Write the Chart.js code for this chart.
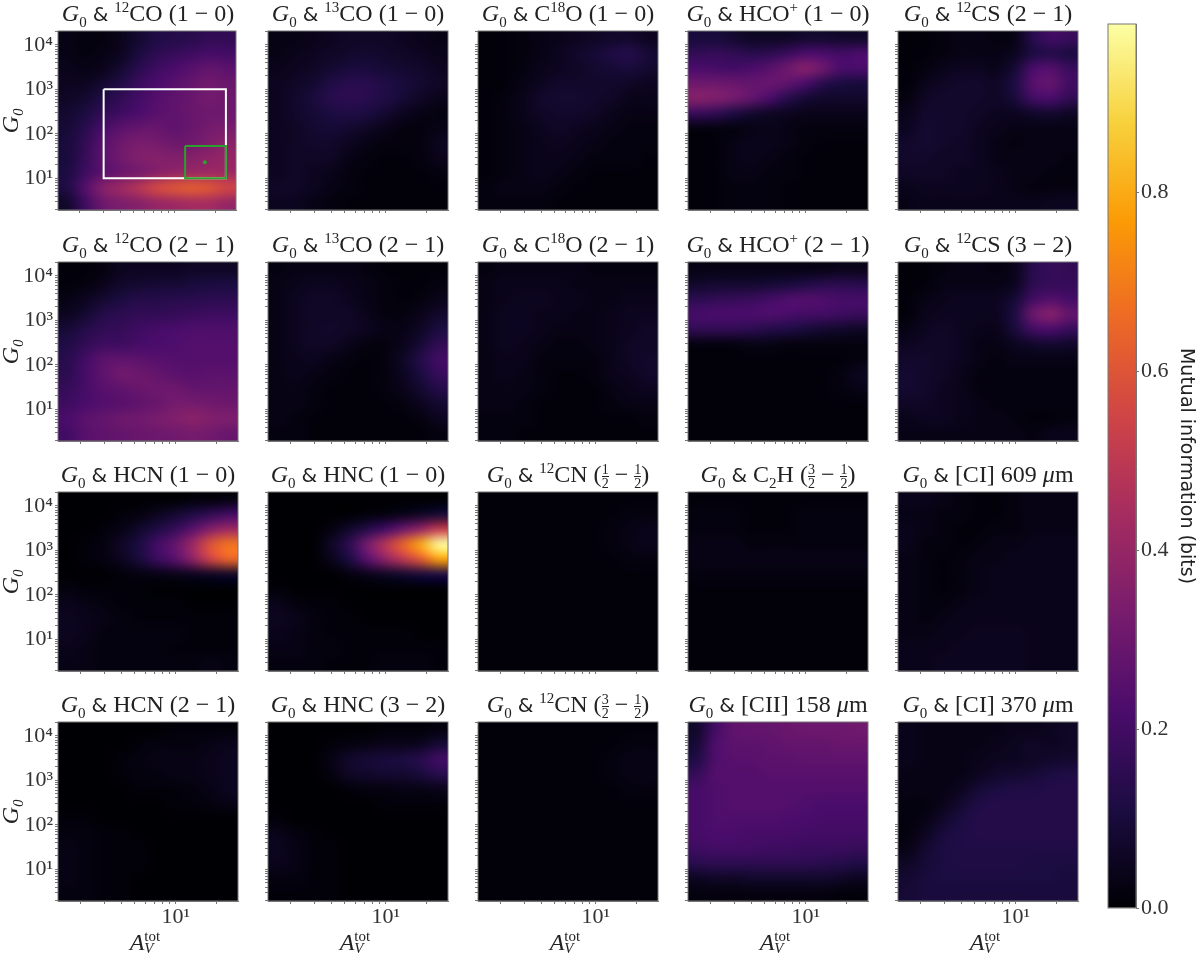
<!DOCTYPE html>
<html><head><meta charset="utf-8">
<script src="https://cdn.jsdelivr.net/npm/chart.js@4"></script>
<style>
html,body{margin:0;padding:0;background:#fff;width:1200px;height:956px;overflow:hidden}
canvas{position:absolute}
.t,.xl{position:absolute;font-family:"Liberation Serif",serif;color:#222;white-space:nowrap;text-align:center;line-height:1}
.t{font-size:24px;width:210px;height:27px}
.t sub,.t sup{font-size:15px;line-height:0}
.amp{font-family:"DejaVu Sans",sans-serif;font-size:20px}
.f{display:inline-block;vertical-align:middle;font-size:14px;line-height:13px;text-align:center}
.f b{display:block;font-weight:normal}
.f b:first-child{border-bottom:1px solid #222}
.xl{font-size:24px;width:180px}
.xl .s{display:inline-block;position:relative;width:22px;height:20px;vertical-align:baseline}
.xl .s span{position:absolute;left:0;font-size:15px}
</style></head><body>
<script>
const avBins=[1.61,2.17,2.94,3.98,5.39,7.30,9.88,13.4,18.1,24.5];
const g0Bins=[13870,6410,2960,1370,633,293,135,62.5,28.9,13.4,6.18,2.85];
const avTicks=[2,3,4,5,6,7,8,9,10,20];
const g0Ticks=[2,3,4,5,6,7,8,9,10,20,30,40,50,60,70,80,90,100,200,300,400,500,600,700,800,900,1000,2000,3000,4000,5000,6000,7000,8000,9000,10000,20000];
const cbTicks=[0,0.2,0.4,0.6,0.8];
const vMax=0.988;
const inferno=['#000004','#1b0c41','#4a0c6b','#781c6d','#a52c60','#cf4446','#ed6925','#fb9b06','#f7d13d','#fcffa4'];
const whiteBox=[[3,1000],[24,1000],[24,10],[3,10],[3,1000]];
const greenBox=[[12,53],[24,53],[24,10],[12,10],[12,53]];
const greenDot=[[16.8,22.9]];

const co10=[[3,2,2,4,8,12,13,14,16,16],[3,2,3,5,10,15,17,19,21,20],[4,3,4,8,14,19,22,25,28,26],[5,5,8,12,18,22,25,28,31,29],[6,8,12,16,20,24,27,29,32,30],[8,11,16,19,22,25,27,29,30,30],[9,14,21,26,28,29,27,29,32,33],[10,16,25,30,33,32,30,31,34,37],[10,17,26,31,35,36,35,36,38,40],[11,19,25,29,32,36,39,41,42,42],[12,24,36,42,48,56,60,62,60,55],[7,19,30,34,36,40,42,44,44,40]];
const c13o10=[[3,3,4,5,6,6,6,5,4,3],[3,4,5,6,7,8,7,6,5,4],[4,5,6,8,10,10,9,8,7,5],[5,6,8,12,14,14,12,10,8,6],[5,7,10,14,15,14,12,9,6,4],[5,7,9,11,12,11,8,5,3,2],[5,6,8,9,8,6,4,2,2,3],[5,6,7,7,5,3,2,2,2,5],[5,6,6,6,3,2,1,1,2,4],[5,6,5,4,2,1,1,1,1,2],[6,6,5,3,2,1,1,1,1,1],[5,5,3,2,1,1,1,1,1,1]];
const c18o10=[[1,1,2,3,4,5,6,7,7,5],[1,1,2,3,5,7,9,12,13,9],[1,1,2,4,5,6,8,9,10,8],[1,1,3,5,7,7,7,7,6,5],[1,2,4,7,8,8,7,6,4,4],[1,2,4,6,7,7,6,4,3,3],[1,2,3,5,6,5,4,3,2,2],[1,2,3,4,5,4,3,2,2,2],[1,2,3,4,4,3,2,2,2,1],[1,2,3,4,3,2,1,1,1,1],[2,3,3,3,2,1,1,1,1,1],[2,2,2,2,1,1,1,1,1,1]];
const hco10=[[10,10,8,6,6,6,8,8,7,7],[16,17,16,14,15,18,22,22,20,22],[22,21,20,22,25,30,36,30,22,22],[30,30,29,28,29,27,22,14,11,10],[36,35,32,28,22,14,9,7,7,7],[18,16,12,8,6,5,4,4,4,4],[2,2,2,3,4,3,2,2,2,2],[1,1,3,4,4,3,2,1,1,1],[1,1,3,4,3,2,1,1,1,1],[1,1,3,3,2,2,1,1,1,1],[1,1,2,2,2,1,1,1,1,1],[1,1,2,2,2,1,1,1,1,1]];
const cs21=[[1,1,2,3,3,2,3,14,20,18],[1,1,2,3,3,3,5,11,13,11],[1,2,4,5,5,4,9,22,24,18],[1,4,6,7,7,6,12,25,28,20],[2,6,7,7,7,6,10,20,22,16],[4,7,7,7,6,5,5,7,8,6],[5,8,7,7,5,4,3,3,3,3],[7,8,7,6,5,3,2,3,3,3],[7,7,6,6,5,3,3,3,3,2],[6,6,6,5,5,4,3,3,2,2],[4,5,5,5,5,4,3,2,2,2],[3,4,4,4,4,4,4,4,5,5]];
const co21=[[1,1,2,5,5,5,5,6,6,6],[1,2,4,7,8,9,9,10,11,11],[3,5,8,11,13,13,14,14,15,15],[5,8,13,15,16,16,17,18,19,19],[9,13,16,17,19,21,22,23,23,23],[12,16,19,19,21,22,23,24,24,24],[14,20,26,27,26,25,24,24,24,24],[15,21,27,31,30,28,26,25,26,26],[17,21,25,27,29,30,30,28,28,28],[19,22,24,25,27,29,32,32,31,30],[22,26,28,30,31,33,35,37,35,34],[20,25,27,28,29,30,31,32,31,29]];
const c13o21=[[2,3,3,3,3,2,1,1,1,1],[3,4,5,5,4,3,2,1,1,2],[3,5,6,6,5,3,2,1,2,4],[3,5,6,6,6,4,2,2,4,7],[3,5,6,7,6,5,3,3,6,11],[3,5,6,6,4,2,2,4,9,16],[3,4,5,3,2,1,2,6,13,20],[3,4,3,2,1,1,2,5,11,18],[3,3,2,1,1,1,2,4,8,13],[3,3,2,1,1,1,1,2,5,8],[3,2,1,1,1,1,1,1,2,5],[2,2,1,1,1,1,1,1,1,2]];
const c18o21=[[2,3,3,3,3,3,2,2,2,2],[3,4,4,4,4,3,3,3,3,3],[3,4,5,5,4,4,3,3,4,4],[3,5,5,4,4,3,3,4,5,5],[3,5,5,4,3,3,3,4,5,6],[3,5,4,3,2,2,3,4,6,6],[3,4,4,2,2,2,2,4,6,7],[3,4,3,2,1,1,2,4,5,7],[3,3,3,2,1,1,1,3,4,5],[3,3,2,1,1,1,1,2,3,3],[2,2,2,1,1,1,1,1,1,2],[2,2,1,1,1,1,1,1,1,1]];
const hco21=[[3,3,3,3,3,3,3,3,4,4],[7,8,8,8,9,10,12,14,15,14],[15,16,17,18,20,23,24,23,21,21],[21,22,22,22,23,22,20,20,19,18],[16,16,16,15,13,12,10,8,7,6],[2,2,2,3,3,2,2,2,2,2],[1,1,1,1,1,1,1,1,1,2],[1,1,1,1,1,1,1,1,2,5],[1,1,1,1,1,1,1,1,2,3],[1,1,1,1,1,1,1,1,1,1],[1,1,1,1,1,1,1,1,1,1],[1,1,1,1,1,1,1,1,1,1]];
const cs32=[[1,1,2,3,3,2,4,14,17,16],[1,1,3,3,3,3,5,15,17,17],[1,3,4,5,5,5,9,20,24,21],[1,4,5,5,5,5,12,30,36,28],[3,5,6,5,4,4,10,20,22,18],[5,6,6,5,3,3,5,7,8,7],[7,7,6,5,3,2,3,3,3,3],[8,7,6,4,2,2,2,2,2,2],[8,7,5,4,2,2,2,2,2,2],[6,6,5,4,3,2,2,2,2,2],[4,5,5,4,3,3,2,1,1,2],[3,3,3,3,3,3,3,2,4,4]];
const hcn10=[[0,0,0,0,0,0,0,1,1,2],[0,0,0,1,2,5,8,12,16,20],[0,0,1,3,7,12,17,26,36,42],[0,1,2,6,11,20,28,42,60,68],[0,1,2,5,10,18,25,38,55,65],[0,0,0,1,2,3,4,5,6,7],[2,1,1,1,1,0,0,0,0,0],[4,3,2,1,1,1,1,0,0,0],[5,4,3,2,1,1,1,1,1,1],[5,4,2,2,2,2,2,1,1,1],[4,3,2,2,2,2,1,1,1,1],[3,3,2,2,2,2,2,2,3,2]];
const hnc10=[[0,0,0,0,0,0,0,0,0,0],[0,0,0,0,0,1,2,4,6,9],[0,0,0,2,7,13,20,30,40,52],[0,0,0,6,15,32,48,64,80,98],[0,0,0,4,11,25,38,50,62,78],[0,0,0,0,2,4,6,8,10,12],[1,0,0,0,0,0,0,0,0,0],[4,2,1,1,0,0,0,0,0,0],[5,4,2,1,1,0,0,0,0,0],[4,3,2,1,1,1,1,1,0,0],[3,3,2,2,1,1,1,1,1,1],[2,2,2,1,1,1,2,2,2,1]];
const cn10half=[[1,1,1,1,1,1,1,1,1,1],[1,1,1,1,1,1,1,1,2,2],[1,1,1,1,1,1,1,2,3,4],[1,1,1,1,1,1,1,2,3,4],[1,1,1,1,1,1,1,1,2,2],[1,1,1,1,1,1,1,1,1,1],[1,1,1,1,1,1,1,1,1,1],[1,1,1,1,1,1,1,1,1,1],[1,1,1,1,1,1,1,1,1,1],[1,1,1,1,1,1,1,1,1,1],[1,1,1,1,1,1,1,1,1,1],[1,1,1,1,1,1,1,1,1,1]];
const cch=[[1,1,1,1,1,1,1,1,1,1],[2,2,2,1,1,1,2,2,2,2],[2,2,2,1,1,1,2,2,2,2],[3,3,3,2,2,2,2,2,2,2],[3,3,3,3,3,3,3,3,3,3],[2,2,2,2,2,2,2,2,2,2],[1,1,1,1,1,1,1,1,1,1],[1,1,1,1,1,1,1,1,1,1],[1,1,1,1,1,1,1,1,1,1],[1,1,1,1,1,1,1,1,1,1],[1,1,1,1,1,1,1,1,1,1],[1,1,1,1,1,1,1,1,1,1]];
const ci609=[[4,4,3,2,1,1,2,3,3,3],[3,3,2,2,1,1,2,3,3,3],[4,3,2,1,1,2,2,3,3,3],[4,2,2,1,2,3,3,4,4,4],[3,2,1,2,3,3,4,4,4,4],[3,2,1,2,3,4,4,4,4,4],[3,2,1,2,3,4,4,4,4,4],[3,2,2,3,4,4,4,4,4,4],[3,2,3,4,4,4,4,4,4,4],[3,3,4,4,5,5,5,4,4,4],[4,4,4,5,5,5,5,4,4,4],[4,4,5,5,5,5,5,4,4,4]];
const hcn21=[[0,0,0,0,0,0,1,1,1,1],[0,0,0,0,1,2,2,2,3,4],[0,0,0,1,2,3,3,3,4,5],[0,0,0,1,2,2,3,3,4,5],[0,0,0,0,1,1,1,2,3,5],[0,0,0,0,0,0,1,1,2,3],[1,1,0,0,0,0,0,0,0,0],[2,2,1,1,0,0,0,0,0,0],[3,2,1,1,1,0,0,0,0,0],[3,2,1,1,1,0,0,0,0,0],[3,2,1,1,0,0,0,0,0,0],[2,2,1,1,0,0,0,0,0,0]];
const hnc32=[[0,0,0,0,0,0,1,1,1,2],[0,0,0,1,2,3,4,4,5,9],[0,0,0,3,7,9,10,11,14,20],[0,0,0,2,6,7,8,8,10,14],[0,0,0,0,1,2,2,3,3,4],[0,0,0,0,0,0,1,1,1,1],[1,0,0,0,0,0,0,0,0,0],[4,2,1,0,0,0,0,0,0,0],[5,3,1,1,0,0,0,0,0,0],[4,3,1,1,0,0,0,0,0,0],[2,2,1,1,0,0,0,0,0,0],[1,1,1,1,0,0,0,0,0,0]];
const cn32=[[1,1,1,1,1,1,1,1,1,1],[1,1,1,1,1,1,1,1,2,2],[1,1,1,1,1,1,1,2,3,3],[1,1,1,1,1,1,1,2,3,3],[1,1,1,1,1,1,1,1,2,2],[1,1,1,1,1,1,1,1,1,1],[1,1,1,1,1,1,1,1,1,1],[1,1,1,1,1,1,1,1,1,1],[1,1,1,1,1,1,1,1,1,1],[1,1,1,1,1,1,1,1,1,1],[1,1,1,1,1,1,1,1,1,1],[1,1,1,1,1,1,1,1,1,1]];
const cii=[[7,20,27,28,28,29,30,30,30,31],[9,23,26,26,27,28,28,28,29,29],[12,23,25,25,26,26,27,27,27,27],[17,24,24,24,25,25,25,25,25,25],[21,23,24,24,24,24,24,24,24,24],[21,23,24,24,24,24,23,22,22,22],[21,23,23,23,23,22,22,21,21,21],[21,22,22,21,21,21,20,20,20,20],[19,20,20,20,19,19,18,18,18,17],[14,15,15,15,15,15,15,14,13,12],[5,6,6,7,7,7,7,7,6,5],[2,2,2,2,2,2,2,2,1,1]];
const ci370=[[4,3,3,3,3,3,4,4,5,6],[4,3,3,3,3,4,5,6,5,6],[4,3,3,3,4,5,5,6,7,8],[3,3,3,3,5,7,8,9,11,12],[3,3,3,5,9,11,12,12,13,13],[2,2,4,8,12,13,13,13,13,13],[2,3,7,11,13,13,13,13,13,13],[2,5,10,12,13,13,13,13,13,13],[3,8,11,12,12,12,12,12,12,12],[6,9,11,12,12,12,12,11,11,11],[8,10,11,11,11,11,11,11,11,10],[9,10,10,10,10,10,10,10,10,10]];

const half='<span class="f"><b>1</b><b>2</b></span>', thr='<span class="f"><b>3</b><b>2</b></span>';
const panelGrids=[co10,c13o10,c18o10,hco10,cs21,co21,c13o21,c18o21,hco21,cs32,hcn10,hnc10,cn10half,cch,ci609,hcn21,hnc32,cn32,cii,ci370];
const panelTitles=['<sup>12</sup>CO (1 − 0)','<sup>13</sup>CO (1 − 0)','C<sup>18</sup>O (1 − 0)','HCO<sup>+</sup> (1 − 0)','<sup>12</sup>CS (2 − 1)',
'<sup>12</sup>CO (2 − 1)','<sup>13</sup>CO (2 − 1)','C<sup>18</sup>O (2 − 1)','HCO<sup>+</sup> (2 − 1)','<sup>12</sup>CS (3 − 2)',
'HCN (1 − 0)','HNC (1 − 0)','<sup>12</sup>CN ('+half+' − '+half+')','C<sub>2</sub>H ('+thr+' − '+half+')','[CI] 609 <i>μ</i>m',
'HCN (2 − 1)','HNC (3 − 2)','<sup>12</sup>CN ('+thr+' − '+half+')','[CII] 158 <i>μ</i>m','[CI] 370 <i>μ</i>m'];
const colLeft=[58,268,478,688,898], rowTop=[31,262,492,722];
const PW=180, PH=179;

function hex(h){return [1,3,5].map(i=>parseInt(h.substr(i,2),16));}
function cmap(v){
  const t=Math.max(0,Math.min(1,v/vMax))*(inferno.length-1),i=Math.min(Math.floor(t),inferno.length-2),f=t-i,a=hex(inferno[i]),b=hex(inferno[i+1]);
  return a.map((c,k)=>Math.round(c+(b[k]-c)*f));
}
const heatPlugin={id:'heat',beforeDatasetsDraw(chart){
  const cells=chart.data.datasets[0].data,{x,y}=chart.scales,nx=avBins.length,ny=g0Bins.length;
  const off=document.createElement('canvas');off.width=nx;off.height=ny;
  const oc=off.getContext('2d'),img=oc.createImageData(nx,ny);
  cells.forEach(c=>{const o=(c.r*nx+c.c)*4,rgb=cmap(c.v);img.data[o]=rgb[0];img.data[o+1]=rgb[1];img.data[o+2]=rgb[2];img.data[o+3]=255;});
  oc.putImageData(img,0,0);
  const x0=x.getPixelForValue(avBins[0]),x1=x.getPixelForValue(avBins[nx-1]),y0=y.getPixelForValue(g0Bins[0]),y1=y.getPixelForValue(g0Bins[ny-1]);
  const dx=(x1-x0)/(nx-1),dy=(y1-y0)/(ny-1),a=chart.chartArea,ctx=chart.ctx;
  ctx.save();ctx.beginPath();ctx.rect(a.left,a.top,a.width,a.height);ctx.clip();
  ctx.imageSmoothingEnabled=true;ctx.imageSmoothingQuality='high';
  ctx.drawImage(off,x0-dx/2,y0-dy/2,dx*nx,dy*ny);ctx.restore();
}};
const framePlugin={id:'frame',afterDraw(chart){const a=chart.chartArea,ctx=chart.ctx;ctx.save();ctx.strokeStyle='#777';ctx.lineWidth=1;ctx.strokeRect(a.left,a.top,a.width,a.height);ctx.restore();}};

panelGrids.forEach((grid,idx)=>{
  const col=idx%5,row=Math.floor(idx/5),isLeft=col===0,isBot=row===3;
  const lm=isLeft?58:8,bm=isBot?55:8,tp=4,rp=2;
  const cv=document.createElement('canvas');
  cv.width=lm+PW+rp;cv.height=tp+PH+bm;
  cv.style.left=(colLeft[col]-lm)+'px';cv.style.top=(rowTop[row]-tp)+'px';
  document.body.appendChild(cv);
  const cells=[];
  grid.forEach((rw,r)=>rw.forEach((val,c)=>cells.push({x:avBins[c],y:g0Bins[r],v:val/100,r,c})));
  const datasets=[{label:'MI',data:cells,pointRadius:0,showLine:false,order:5}];
  if(idx===0){
    const pts=a=>a.map(p=>({x:p[0],y:p[1]}));
    datasets.push({label:'box',data:pts(whiteBox),showLine:true,borderColor:'#fff',borderWidth:2,pointRadius:0,tension:0,order:4});
    datasets.push({label:'sub',data:pts(greenBox),showLine:true,borderColor:'#2ca02c',borderWidth:2,pointRadius:0,tension:0,order:3});
    datasets.push({label:'pt',data:pts(greenDot),pointRadius:2,backgroundColor:'#2ca02c',borderWidth:0,order:2});
  }
  const tickFont={family:'"Liberation Serif",serif',size:22};
  new Chart(cv,{type:'scatter',data:{datasets},plugins:[heatPlugin,framePlugin],options:{
    responsive:false,animation:false,events:[],
    layout:{padding:{top:tp,right:rp,left:0,bottom:0}},
    plugins:{legend:{display:false},tooltip:{enabled:false}},
    scales:{
      x:{type:'logarithmic',min:1.38,max:28.5,
        afterBuildTicks:s=>{s.ticks=avTicks.map(v=>({value:v}));},
        afterFit:s=>{s.height=bm;s.paddingLeft=0;s.paddingRight=0;},
        grid:{drawOnChartArea:false,tickLength:3,tickColor:'#777',tickWidth:1},border:{color:'#777'},
        ticks:{autoSkip:false,maxRotation:0,minRotation:0,padding:0,color:'#333',font:tickFont,
          callback:v=>(isBot&&v===10)?'10¹':''}},
      y:{type:'logarithmic',min:1.94,max:20400,
        afterBuildTicks:s=>{s.ticks=g0Ticks.map(v=>({value:v}));},
        afterFit:s=>{s.width=lm;s.paddingTop=0;s.paddingBottom=0;},
        title:{display:isLeft,text:'G₀',color:'#222',padding:0,font:{family:'"Liberation Serif",serif',size:24,style:'italic',lineHeight:1}},
        grid:{drawOnChartArea:false,tickLength:3,tickColor:'#777',tickWidth:1},border:{color:'#777'},
        ticks:{autoSkip:false,padding:2,color:'#333',font:tickFont,
          callback:v=>{if(!isLeft)return '';return {10:'10¹',100:'10²',1000:'10³',10000:'10⁴'}[v]||'';}}}
    }}});
  const t=document.createElement('div');t.className='t';
  t.innerHTML='<i>G</i><sub>0</sub> <span class="amp">&amp;</span> '+panelTitles[idx];
  t.style.left=(colLeft[col]+90-105)+'px';t.style.top=(rowTop[row]-30)+'px';
  document.body.appendChild(t);
  if(isBot){const x=document.createElement('div');x.className='xl';
    x.innerHTML='<i>A</i><span class="s"><span style="top:-1px">tot</span><span style="top:11px"><i>V</i></span></span>';
    x.style.left=colLeft[col]+'px';x.style.top='930px';document.body.appendChild(x);}
});

const cb=document.createElement('canvas');cb.width=102;cb.height=906;cb.style.left='1098px';cb.style.top='14px';document.body.appendChild(cb);
new Chart(cb,{type:'bar',data:{labels:['MI'],datasets:[{data:[[0,vMax]],barPercentage:1,categoryPercentage:1,borderWidth:0,
  backgroundColor:c=>{const ch=c.chart;if(!ch.chartArea)return '#000';const ys=ch.scales.y,g=ch.ctx.createLinearGradient(0,ys.getPixelForValue(0),0,ys.getPixelForValue(vMax));inferno.forEach((h,i)=>g.addColorStop(i/(inferno.length-1),h));return g;}}]},
  plugins:[framePlugin],options:{responsive:false,animation:false,events:[],
  layout:{padding:{top:10,left:10,right:0,bottom:12}},
  plugins:{legend:{display:false},tooltip:{enabled:false}},
  scales:{x:{display:false},y:{position:'right',min:0,max:vMax,
    afterBuildTicks:s=>{s.ticks=cbTicks.map(v=>({value:v}));},
    afterFit:s=>{s.width=64;s.paddingTop=0;s.paddingBottom=0;},
    grid:{drawOnChartArea:false,tickLength:3,tickColor:'#777'},border:{color:'#777'},
    ticks:{padding:2,color:'#333',font:{family:'"Liberation Serif",serif',size:22},callback:v=>Number(v).toFixed(1)},
    title:{display:true,text:'Mutual information (bits)',color:'#222',padding:3,font:{family:'"DejaVu Sans",sans-serif',size:19}}}}}});
</script>
</body></html>
